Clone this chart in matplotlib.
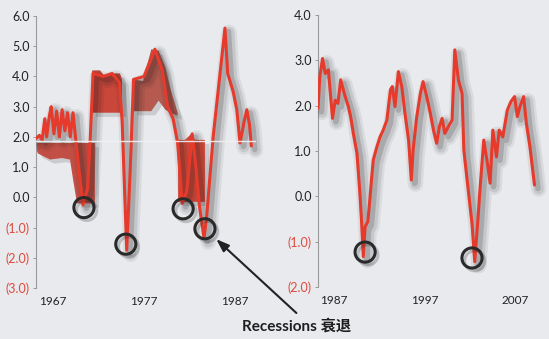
import matplotlib.pyplot as plt
import matplotlib.patheffects as pe

# Left panel: 1965-1989 series, hand-read values
left_years = [1965.15, 1965.5, 1965.8, 1966.1, 1966.3, 1966.6, 1966.8, 1967.1, 1967.4,
              1967.7, 1968.0, 1968.3, 1968.6, 1968.9, 1969.2, 1969.5, 1970.0, 1970.3,
              1970.8, 1971.1, 1971.4, 1972.5, 1973.5, 1974.3, 1974.6, 1975.1, 1975.5,
              1975.85, 1977.0, 1978.2, 1979.0, 1979.6, 1980.2, 1980.7, 1981.2, 1981.7,
              1982.3, 1982.7, 1983.1, 1983.6, 1983.9, 1984.6, 1985.9, 1986.2, 1986.8,
              1987.2, 1987.55, 1987.75, 1988.0, 1988.3, 1988.6, 1988.8]
left_vals = [1.95, 2.05, 1.9, 2.6, 2.0, 2.7, 3.0, 2.1, 2.85,
             2.0, 2.9, 2.2, 2.8, 2.0, 2.8, 1.9, 0.5, -0.25,
             0.3, 2.0, 4.1, 4.0, 4.1, 3.8, 2.5, -1.75, 1.0,
             3.9, 4.0, 4.9, 4.2, 3.0, 2.6, 1.8, -0.2, 0.2,
             2.1, 1.0, -0.3, -1.35, -0.6, 2.0, 5.6, 4.1, 3.5,
             2.9, 1.8, 2.1, 2.5, 2.9, 2.4, 1.7]

# Solid blocks in the left panel (years, top, bottom)
block_a_years = [1965.15, 1965.35, 1966.67, 1967.99, 1968.87, 1969.2, 1969.64, 1971.6]
block_a_top = [1.8, 1.8, 1.8, 1.8, 1.8, 1.8, 1.8, 1.8]
block_a_bottom = [1.6, 1.45, 1.25, 1.3, 1.25, 0.6, -0.2, -0.2]

block_b_years = [1971.3, 1972.16, 1972.7, 1973.26, 1974.36, 1974.58]
block_b_top = [4.2, 4.2, 4.0, 4.1, 4.1, 3.9]
block_b_bottom = [2.8, 2.8, 2.8, 2.8, 2.8, 2.8]

block_c_years = [1975.8, 1976.9, 1977.8, 1978.6, 1979.35, 1979.9, 1980.7]
block_c_top = [3.9, 3.85, 4.9, 4.85, 4.3, 3.6, 2.8]
block_c_bottom = [2.85, 2.85, 2.85, 3.2, 2.9, 2.8, 2.7]

block_d_years = [1980.75, 1981.5, 1982.2, 1982.6, 1983.7]
block_d_top = [1.9, 1.9, 2.1, 1.9, 1.9]
block_d_bottom = [-0.15, -0.15, -0.15, -0.15, -0.15]

left_low_years = [1970.4, 1975.0, 1981.3, 1983.7]
left_low_vals = [-0.34, -1.55, -0.38, -1.04]

# Right panel: 1985-2009 series
right_years = [1985.2, 1985.4, 1985.7, 1986.0, 1986.35, 1986.5, 1986.8, 1987.1, 1987.4,
               1987.7, 1988.2, 1988.55, 1988.8, 1989.1, 1989.5, 1989.8, 1990.0, 1990.2,
               1990.4, 1990.7, 1990.95, 1991.1, 1991.3, 1991.7, 1992.05, 1992.4, 1992.8,
               1993.2, 1993.4, 1993.7, 1994.07, 1994.45, 1994.8, 1995.2, 1995.5, 1995.7,
               1996.1, 1996.5, 1996.8, 1997.2, 1997.6, 1997.95, 1998.3, 1998.6, 1998.9,
               1999.2, 1999.6, 2000.0, 2000.3, 2000.7, 2001.1, 2001.3, 2001.7, 2002.2,
               2002.5, 2002.85, 2003.1, 2003.5, 2003.9, 2004.2, 2004.5, 2004.9, 2005.2,
               2005.6, 2006.1, 2006.5, 2006.9, 2007.2, 2007.5, 2007.9, 2008.2, 2008.6,
               2008.9, 2009.1]
right_vals = [1.94, 2.64, 3.04, 2.71, 2.79, 2.42, 1.72, 2.12, 2.05,
              2.57, 2.2, 1.98, 1.76, 1.39, 0.95, 0.14, -0.52, -1.33,
              -0.67, -0.56, -0.01, 0.36, 0.8, 1.09, 1.31, 1.46, 1.68,
              2.35, 2.42, 1.98, 2.75, 2.42, 1.83, 1.24, 0.36, 1.02,
              1.76, 2.27, 2.53, 2.2, 1.83, 1.46, 1.17, 1.54, 1.72,
              1.39, 1.54, 1.68, 3.23, 2.57, 2.27, 1.02, 0.29, -0.6,
              -1.44, -0.52, 0.21, 1.24, 0.73, 0.29, 1.46, 0.87, 1.46,
              1.31, 1.9, 2.09, 2.2, 1.76, 1.98, 2.2, 1.61, 1.09,
              0.58, 0.25]

right_low_years = [1990.4, 2002.2]
right_low_vals = [-1.23, -1.36]

left_ticks = [6, 5, 4, 3, 2, 1, 0, -1, -2, -3]
right_ticks = [4, 3, 2, 1, 0, -1, -2]
left_xticks = [1967, 1977, 1987]
right_xticks = [1987, 1997, 2007]

RED = "#e63b2c"
BG = "#e9eaee"

plt.rcParams["font.family"] = ["Lato", "Noto Sans CJK SC", "DejaVu Sans"]

fig = plt.figure(figsize=(5.49, 3.39), dpi=100, facecolor=BG)
ax1 = fig.add_axes([36 / 549, 1 - 288 / 339, 239 / 549, 272 / 339])
ax2 = fig.add_axes([318 / 549, 1 - 287 / 339, 231 / 549, 272 / 339])

# soft drop shadow built from a few widening strokes
line_fx = [
    pe.SimpleLineShadow(offset=(3, -3), shadow_color="#1a1a1a", alpha=0.07, linewidth=11),
    pe.SimpleLineShadow(offset=(3, -3), shadow_color="#1a1a1a", alpha=0.10, linewidth=7.5),
    pe.SimpleLineShadow(offset=(2.5, -2.5), shadow_color="#1a1a1a", alpha=0.17, linewidth=4),
    pe.Normal(),
]
patch_fx = [
    pe.SimplePatchShadow(offset=(3, -3), shadow_rgbFace="#1a1a1a", alpha=0.14),
    pe.Normal(),
]


def fmt_tick(v):
    if v < 0:
        return "({:.1f})".format(-v)
    return "{:.1f}".format(v)


def style_axes(ax, ticks, xticks, xlim, ylim):
    ax.set_facecolor("none")
    ax.set_xlim(*xlim)
    ax.set_ylim(*ylim)
    for side in ["top", "right", "bottom"]:
        ax.spines[side].set_visible(False)
    ax.spines["left"].set_color("#9a9a9a")
    ax.spines["left"].set_linewidth(0.8)
    ax.set_yticks(ticks)
    ax.set_yticklabels([fmt_tick(v) for v in ticks], fontsize=9)
    for lab, v in zip(ax.get_yticklabels(), ticks):
        lab.set_color("#e04a3c" if v < 0 else "#222222")
    ax.tick_params(axis="y", length=2.5, width=0.7, color="#9a9a9a", pad=2)
    ax.set_xticks(xticks)
    ax.set_xticklabels([str(x) for x in xticks], fontsize=8.5, color="#222222")
    ax.tick_params(axis="x", length=0, pad=6)


# left panel blocks
ax1.fill_between(block_a_years, block_a_bottom, block_a_top, color="#c14f45",
                 lw=0, path_effects=patch_fx, zorder=2)
ax1.fill_between(block_b_years, block_b_bottom, block_b_top, color="#c8473a",
                 lw=0, path_effects=patch_fx, zorder=2)
ax1.fill_between(block_c_years, block_c_bottom, block_c_top, color="#b65a50",
                 lw=0, path_effects=patch_fx, zorder=2)
ax1.fill_between(block_d_years, block_d_bottom, block_d_top, color="#d94a3b",
                 lw=0, path_effects=patch_fx, zorder=2)
ax1.plot(left_years, left_vals, color=RED, lw=2.2, solid_joinstyle="round",
         solid_capstyle="round", path_effects=line_fx, zorder=3)
ax1.plot([1965.15, 1989.2], [1.88, 1.88], color="#f2f2f4", lw=1.0, alpha=0.9, zorder=4)

ax2.plot(right_years, right_vals, color=RED, lw=2.2, solid_joinstyle="round",
         solid_capstyle="round", path_effects=line_fx, zorder=3)

ring_fx = [pe.SimpleLineShadow(offset=(2, -2), shadow_color="#1a1a1a", alpha=0.22),
           pe.Normal()]
for ax, xs, ys in [(ax1, left_low_years, left_low_vals), (ax2, right_low_years, right_low_vals)]:
    ax.scatter(xs, ys, s=210, facecolors="none", edgecolors="#2a2a2a",
               linewidths=2.2, zorder=5, path_effects=ring_fx)

style_axes(ax1, left_ticks, left_xticks, (1965.13, 1991.4), (-3, 6))
style_axes(ax2, right_ticks, right_xticks, (1985.2, 2010.7), (-2, 4))

# recession callout
ax1.annotate("Recessions 衰退", xy=(left_low_years[3], left_low_vals[3]), xycoords="data",
             xytext=(297 / 549, 1 - 326 / 339), textcoords="figure fraction",
             ha="center", va="center", fontsize=11, fontweight="bold", color="#1e1e1e",
             arrowprops=dict(arrowstyle="-|>,head_length=0.7,head_width=0.25",
                             color="#222222", lw=1.5, relpos=(0.55, 1.0),
                             shrinkA=3, shrinkB=11),
             zorder=6)

fig.savefig("out.png", dpi=100, facecolor=BG)
